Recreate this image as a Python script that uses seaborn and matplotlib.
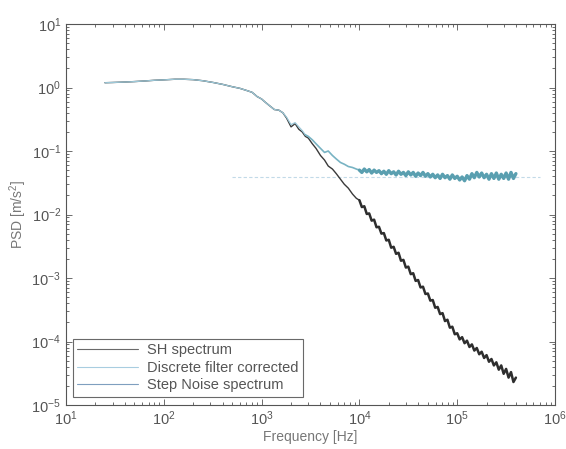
import numpy as np
import pandas as pd
import matplotlib
matplotlib.use("Agg")
import matplotlib.pyplot as plt
import seaborn as sns

# ---------------- data ----------------
freq_lo = [25, 30, 40, 50, 65, 80, 100, 130, 160, 200, 250, 320, 400, 500, 600,
           700, 800, 900, 1000, 1100, 1200, 1350, 1500, 1650, 1800, 2000, 2200,
           2400, 2600, 2800, 3000, 3300, 3600, 4000, 4400, 4800, 5300, 5800,
           6400, 7000, 7700, 8500, 9300]
sh_lo = [1.19, 1.20, 1.22, 1.24, 1.27, 1.30, 1.32, 1.35, 1.35, 1.33, 1.28, 1.20,
         1.12, 1.03, 0.97, 0.90, 0.84, 0.72, 0.66, 0.58, 0.52, 0.45, 0.44, 0.40,
         0.33, 0.24, 0.27, 0.22, 0.20, 0.17, 0.16, 0.13, 0.11, 0.085, 0.072,
         0.058, 0.052, 0.044, 0.036, 0.030, 0.026, 0.021, 0.018]
corr_lo = [1.19, 1.20, 1.22, 1.24, 1.27, 1.30, 1.32, 1.35, 1.35, 1.33, 1.28, 1.20,
           1.12, 1.03, 0.97, 0.90, 0.84, 0.72, 0.66, 0.58, 0.52, 0.45, 0.44, 0.40,
           0.34, 0.26, 0.28, 0.24, 0.21, 0.18, 0.17, 0.15, 0.13, 0.11, 0.095,
           0.10, 0.085, 0.075, 0.066, 0.062, 0.057, 0.055, 0.052]

freq_hi = [10000, 10590, 11220, 11890, 12590, 13340, 14130, 14960, 15850, 16790,
           17780, 18840, 19950, 21130, 22390, 23710, 25120, 26610, 28180, 29850,
           31620, 33500, 35480, 37580, 39810, 42170, 44670, 47320, 50120, 53090,
           56230, 59570, 63100, 66830, 70790, 74990, 79430, 84140, 89130, 94410,
           100000, 105900, 112200, 118900, 125900, 133400, 141300, 149600, 158500,
           167900, 177800, 188400, 199500, 211300, 223900, 237100, 251200, 266100,
           281800, 298500, 316200, 335000, 354800, 375800, 398100]
sh_hi = [0.0168, 0.0131, 0.0135, 0.0102, 0.0104, 0.0080, 0.0083, 0.0063, 0.0064,
         0.0050, 0.0051, 0.0039, 0.0040, 0.0030, 0.0031, 0.0024, 0.0025, 0.00187,
         0.00193, 0.00146, 0.00151, 0.00115, 0.00119, 0.00090, 0.00093, 0.00071,
         0.00073, 0.00056, 0.00057, 0.00044, 0.00045, 0.00034, 0.00035, 0.00027,
         0.00028, 0.00021, 0.00022, 0.000165, 0.000171, 0.000130, 0.000135,
         0.000108, 0.000117, 0.000094, 0.000103, 0.000082, 0.000090, 0.000072,
         0.000079, 0.000063, 0.000069, 0.000055, 0.000061, 0.000048, 0.000053,
         0.000042, 0.000047, 0.000036, 0.000042, 0.000031, 0.000037, 0.000027,
         0.000033, 0.000023, 0.000027]
corr_hi = [0.050, 0.046, 0.052, 0.047, 0.051, 0.045, 0.050, 0.046, 0.049, 0.044,
           0.048, 0.043, 0.049, 0.044, 0.047, 0.042, 0.048, 0.043, 0.046, 0.041,
           0.047, 0.042, 0.046, 0.040, 0.045, 0.041, 0.046, 0.040, 0.044, 0.039,
           0.043, 0.038, 0.042, 0.037, 0.043, 0.038, 0.041, 0.036, 0.042, 0.037,
           0.040, 0.035, 0.039, 0.034, 0.041, 0.036, 0.044, 0.038, 0.046, 0.039,
           0.045, 0.038, 0.043, 0.036, 0.044, 0.037, 0.045, 0.036, 0.043, 0.037,
           0.045, 0.036, 0.046, 0.037, 0.044]

step_freq = [500, 700000]
step_level = [0.039, 0.039]

labels = ["SH spectrum", "Discrete filter corrected", "Step Noise spectrum"]
x_ticks = [1e1, 1e2, 1e3, 1e4, 1e5, 1e6]
y_ticks = [1e-5, 1e-4, 1e-3, 1e-2, 1e-1, 1e0, 1e1]

# ---------------- plotting ----------------
sns.set_style("ticks")
plt.rcParams["font.family"] = ["Liberation Sans", "DejaVu Sans"]
plt.rcParams["text.color"] = "#555555"
plt.rcParams["axes.labelcolor"] = "#777777"
plt.rcParams["xtick.color"] = "#555555"
plt.rcParams["ytick.color"] = "#555555"
plt.rcParams["mathtext.fontset"] = "custom"
plt.rcParams["mathtext.rm"] = "Liberation Sans"
plt.rcParams["mathtext.it"] = "Liberation Sans"

fig = plt.figure(figsize=(5.66, 4.49), dpi=100)
ax = fig.add_axes([0.1166, 0.098, 0.864, 0.8485])

df_sh = pd.DataFrame({"f": freq_lo + freq_hi, "p": sh_lo + sh_hi})
df_cr = pd.DataFrame({"f": freq_lo + freq_hi, "p": corr_lo + corr_hi})
df_st = pd.DataFrame({"f": step_freq, "p": step_level})
n_lo = len(freq_lo)

sns.lineplot(data=df_st, x="f", y="p", ax=ax, color="#c2dae8", lw=0.8,
             linestyle=(0, (3, 2)), estimator=None, sort=False, label=labels[2])
# SH spectrum: thin in the smooth region, thicker where the noise builds up
sns.lineplot(data=df_sh.iloc[:n_lo + 1], x="f", y="p", ax=ax, color="#3a3a3a",
             lw=1.0, estimator=None, sort=False, label=labels[0])
sns.lineplot(data=df_sh.iloc[n_lo:], x="f", y="p", ax=ax, color="#2e2e2e",
             lw=1.8, estimator=None, sort=False)
# corrected spectrum
sns.lineplot(data=df_cr.iloc[:30], x="f", y="p", ax=ax, color="#9cc8d8", lw=0.9,
             estimator=None, sort=False, label=labels[1])
sns.lineplot(data=df_cr.iloc[29:n_lo + 1], x="f", y="p", ax=ax, color="#78b3c3",
             lw=1.2, estimator=None, sort=False)
sns.lineplot(data=df_cr.iloc[n_lo:], x="f", y="p", ax=ax, color="#5a9fb0",
             lw=2.4, estimator=None, sort=False)

ax.set_xscale("log")
ax.set_yscale("log")
ax.set_xlim(1e1, 1e6)
ax.set_ylim(1e-5, 1e1)
ax.set_xticks(x_ticks)
ax.set_yticks(y_ticks)
ax.tick_params(which="both", direction="in", top=True, right=True, labelsize=10.5,
               width=0.6)
ax.tick_params(which="major", length=4)
ax.tick_params(which="minor", length=2)
for s in ax.spines.values():
    s.set_color("#555555")
    s.set_linewidth(0.8)

ax.set_xlabel("Frequency [Hz]", fontsize=10, labelpad=1)
ax.set_ylabel("PSD [m/s$^2$]", fontsize=10, labelpad=2)

handles, labs = ax.get_legend_handles_labels()
order = [labs.index(l) for l in labels]
leg = ax.legend([handles[i] for i in order], [labs[i] for i in order],
                loc="lower left", bbox_to_anchor=(0.005, 0.01), frameon=True,
                fancybox=False, edgecolor="#444444", fontsize=10.5,
                handlelength=4.2, borderpad=0.3, labelspacing=0.25,
                handletextpad=0.6, borderaxespad=0.3)
leg.get_frame().set_linewidth(0.8)
leg_colors = ["#6a6a6a", "#a8cde0", "#7f9fbf"]
for line, c in zip(leg.get_lines(), leg_colors):
    line.set_linewidth(0.8)
    line.set_color(c)
    line.set_linestyle("-")
for t in leg.get_texts():
    t.set_color("#555555")

fig.savefig("out.png", dpi=100, facecolor="white")
